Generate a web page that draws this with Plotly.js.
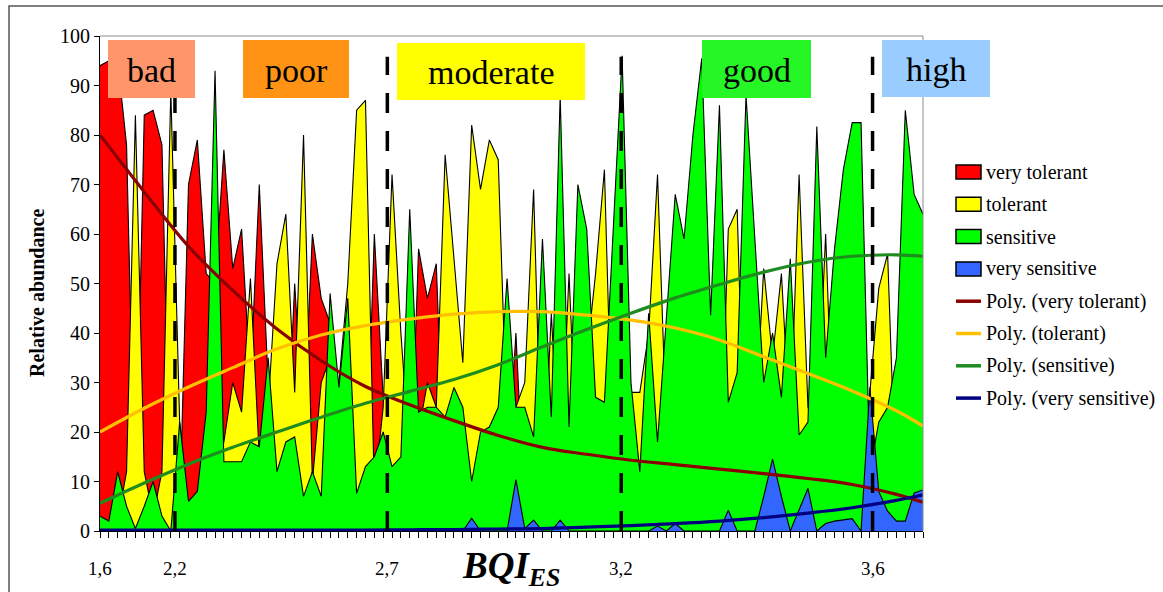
<!DOCTYPE html>
<html><head><meta charset="utf-8">
<script src="https://cdn.plot.ly/plotly-3.0.1.min.js"></script>
<style>html,body{margin:0;padding:0;background:#fff;} #chart{width:1163px;height:592px;}</style>
</head><body><div id="chart"></div>
<script>
// ---- data (samples ordered by BQI_ES, category index along x) ----
const seriesNames = ['very tolerant', 'tolerant', 'sensitive', 'very sensitive'];
const trendNames = ['Poly. (very tolerant)', 'Poly. (tolerant)', 'Poly. (sensitive)', 'Poly. (very sensitive)'];

const veryTolerant = [94,95,95,78,2,84,85,78,1,3, 70,79,52,50,77,53,61,30,70,30,
  15,10,50,20,60,47,42,20,10,5, 5,60,27,10,8,5,57,47,54,5,
  5,5,5,5,5,5,10,40,2,1, 0,0,0,0,0,0,0,0,0,0,
  0,0,0,0,0,0,0,0,0,0, 0,0,0,0,0,0,0,0,0,0,
  0,0,0,0,0,0,0,0,0,0, 0,0,0,0];
const tolerant = [1,1,2,12,84,12,3,12,89,22, 4,3,5,10,18,30,24,51,15,25,
  54,64,28,80,10,30,35,30,50,85, 87,8,25,72,40,15,20,30,25,76,
  55,34,82,69,79,75,20,25,30,69, 5,44,10,52,10,35,52,73,10,5,
  28,28,40,72,20,10,10,5,5,10, 5,61,65,5,20,53,35,52,20,72,
  25,20,60,10,10,5,5,28,49,56, 5,3,2,2];
const sensitive = [3,2,12,5,0.5,5,10,3,0,22, 6,8,24,93,14,14,14,18,17,35,
  12,18,19,7,12,7,48,29,47,7.6, 13,15,20,13,15,65,24,25,25,23,
  29,25,10,20,21,25,51,25,25,19, 59,23,88,21,70,61,27,26,60,96,
  30,12,44,18,43,68,59,80,95.5,43.6, 86,26,32,88,59,30,40,27,55,19.4,
  22,81.7,35,57,73,82.5,82.5,12,22,25, 35,85,68,64];
const verySensitive = [0,0,0,0,0,0,0,0,0,0, 0,0,0,0,0,0,0,0,0,0,
  0,0,0,0,0,0,0,0,0,0, 0,0,0,0,0,0,0,0,0,0,
  0,0,2.6,0,0,0,0,10.4,0.5,2.2, 0,0,2.2,0,0,0,0,0,0,0,
  0,0,0,1,0,1.5,0,0,0,0, 0,4.2,0,0,0,7,14.5,7,0,4.3,
  8.6,0,1.5,2,2.2,2.5,0,29,8,4, 2,2,7.7,8.3];

// polynomial trend lines at these category positions
const trendIdx = [0,5,10,15,20,25,30,35,40,45,50,55,60,65,70,75,80,85,90,93];
const trendVeryTolerant = [80,68.5,57.5,48.6,40.8,34.4,29.2,25.5,22.3,19.3,16.9,15.5,14.3,13.4,12.5,11.6,10.6,9.4,7.4,5.8];
const trendTolerant = [20,24.8,29.1,33,36.8,39.6,41.5,42.8,43.8,44.3,44.3,43.6,42.6,41,38.6,35.2,31.8,28.3,24.3,21.2];
const trendSensitive = [5.6,9.7,13.5,16.9,20,23,25.8,28.2,30.6,33.6,37.2,40.7,44,47.1,49.8,52.3,54.3,55.5,55.8,55.5];
const trendVerySensitive = [0.2,0.2,0.2,0.2,0.2,0.2,0.2,0.25,0.3,0.4,0.5,0.8,1.1,1.5,2.0,2.7,3.6,4.7,6.2,7.3];

// x tick labels (BQI_ES) and class boundaries (category positions)
const tickPositions = [0, 8.47, 32.47, 58.9, 87.3];
const tickLabels = ['1,6', '2,2', '2,7', '3,2', '3,6'];
const classNames = ['bad', 'poor', 'moderate', 'good', 'high'];

// ---- styles ----
const areaColors = ['#FF0000', '#FFFF00', '#00FF00', '#3366FF'];
const trendColors = ['#8B0000', '#FFC000', '#1E8C1E', '#000080'];
const classColors = ['#FF956B', '#FF9414', '#FFFF00', '#26F526', '#99CCFF'];
const classBoxes = [[108,195,40,98],[243,349,40,98],[397,585,43,100],[702,811,40,98],[882,990,40,97]]; // px
const FONT = '"Liberation Serif", "Times New Roman", serif';

const W = 1163, H = 592, L = 100, R = 923, T = 36, B = 531;
const px = x => (x - L) / (R - L);
const py = y => (B - y) / (B - T);

const N = veryTolerant.length;
const idx = Array.from({length: N}, (_, i) => i);
const areaSeries = [veryTolerant, tolerant, sensitive, verySensitive];
const trendSeries = [trendVeryTolerant, trendTolerant, trendSensitive, trendVerySensitive];

const traces = [];
areaSeries.forEach((s, k) => traces.push({
  x: idx, y: s, type: 'scatter', mode: 'lines', fill: 'tozeroy',
  fillcolor: areaColors[k], line: {color: '#000', width: 1.1},
  name: seriesNames[k], showlegend: false, hoverinfo: 'skip'
}));
trendSeries.forEach((s, k) => traces.push({
  x: trendIdx, y: s, type: 'scatter', mode: 'lines',
  line: {color: trendColors[k], width: 3.2, shape: 'spline', smoothing: 1},
  name: trendNames[k], showlegend: false, hoverinfo: 'skip'
}));

const shapes = [];
// plot-area border (top & right) and outer chart frame
shapes.push({type:'line', xref:'paper', yref:'paper', x0:0, x1:1, y0:1, y1:1, line:{color:'#8c8c8c', width:1}, layer:'above'});
shapes.push({type:'line', xref:'paper', yref:'paper', x0:1, x1:1, y0:0, y1:1, line:{color:'#8c8c8c', width:1}, layer:'above'});
shapes.push({type:'rect', xref:'paper', yref:'paper', x0:px(9), x1:px(1200), y0:py(640), y1:py(6), line:{color:'#555', width:1.5}, fillcolor:'rgba(0,0,0,0)', layer:'above'});
// class boundaries
tickPositions.slice(1).forEach(b => shapes.push({
  type:'line', xref:'x', yref:'y', x0:b, x1:b, y0:0, y1:95.8,
  line:{color:'#000', width:3.5, dash:'20px,18px'}, layer:'above'
}));
// class boxes
classBoxes.forEach((bx, k) => shapes.push({
  type:'rect', xref:'paper', yref:'paper', x0:px(bx[0]), x1:px(bx[1]), y0:py(bx[3]), y1:py(bx[2]),
  fillcolor: classColors[k], line:{width:0}, layer:'above'
}));

const annotations = [];
classBoxes.forEach((bx, k) => annotations.push({
  xref:'paper', yref:'paper', x:px((bx[0]+bx[1])/2), y:py((bx[2]+bx[3])/2 + 1),
  text: classNames[k], showarrow:false, xanchor:'center', yanchor:'middle',
  font:{family:FONT, size:34, color:'#000'}
}));
tickPositions.forEach((p, k) => annotations.push({
  xref:'x', yref:'paper', x:p, y:py(568), text:tickLabels[k], showarrow:false,
  xanchor:'center', yanchor:'middle', font:{family:FONT, size:19, color:'#000'}
}));
annotations.push({xref:'paper', yref:'paper', x:px(511), y:py(568), text:'<b><i>BQI<sub>ES</sub></i></b>',
  showarrow:false, xanchor:'center', yanchor:'middle', font:{family:FONT, size:37, color:'#000'}});
annotations.push({xref:'paper', yref:'paper', x:px(37), y:py(293), text:'<b>Relative abundance</b>', textangle:-90,
  showarrow:false, xanchor:'center', yanchor:'middle', font:{family:FONT, size:20, color:'#000'}});

// legend (drawn as swatches + text)
const legY0 = 172, legStep = 32.3;
const legNames = seriesNames.concat(trendNames);
legNames.forEach((nm, k) => {
  const c = legY0 + k * legStep;
  if (k < 4) {
    shapes.push({type:'rect', xref:'paper', yref:'paper', x0:px(956), x1:px(981), y0:py(c+7), y1:py(c-7),
      fillcolor: areaColors[k], line:{color:'#000', width:1.5}, layer:'above'});
  } else {
    shapes.push({type:'line', xref:'paper', yref:'paper', x0:px(956), x1:px(981), y0:py(c), y1:py(c),
      line:{color: trendColors[k-4], width:3.5}, layer:'above'});
  }
  annotations.push({xref:'paper', yref:'paper', x:px(984), y:py(c), text:nm, showarrow:false,
    xanchor:'left', yanchor:'middle', font:{family:FONT, size:20, color:'#000'}});
});

const layout = {
  width: W, height: H,
  margin: {l: L, r: W - R, t: T, b: H - B, pad: 0},
  paper_bgcolor: '#fff', plot_bgcolor: '#fff',
  showlegend: false,
  font: {family: FONT, color: '#000'},
  xaxis: {range: [0, N - 1], tickmode: 'linear', tick0: 0, dtick: 1, ticks: 'outside', ticklen: 6,
    tickcolor: '#000', tickwidth: 1, showticklabels: false, showline: true, linecolor: '#000', linewidth: 1,
    showgrid: false, zeroline: false, fixedrange: true},
  yaxis: {range: [0, 100], tickmode: 'linear', tick0: 0, dtick: 10, ticks: 'outside', ticklen: 5,
    tickcolor: '#000', showline: true, linecolor: '#000', linewidth: 1, showgrid: false, zeroline: false,
    tickfont: {family: FONT, size: 20, color: '#000'}, fixedrange: true},
  shapes: shapes,
  annotations: annotations
};

Plotly.newPlot('chart', traces, layout, {displayModeBar: false, staticPlot: true});
</script>
</body></html>
